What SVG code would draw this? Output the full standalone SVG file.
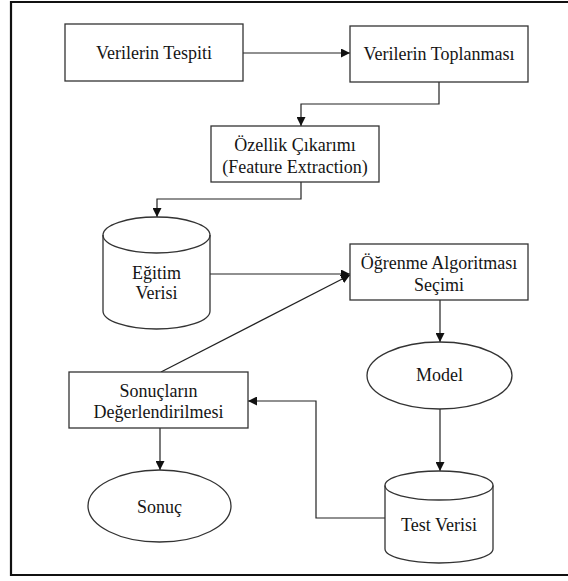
<svg xmlns="http://www.w3.org/2000/svg" width="568" height="581" viewBox="0 0 568 581">
  <defs>
    <marker id="arr" viewBox="0 0 10 10" refX="10" refY="5" markerWidth="9" markerHeight="9" markerUnits="userSpaceOnUse" orient="auto">
      <path d="M0,0 L10,5 L0,10 z" fill="#111"/>
    </marker>
    <style>
      .box { fill: #fff; stroke: #333; stroke-width: 1.3; }
      .lbl { font-family: 'Liberation Serif', 'DejaVu Serif', 'Noto Serif', 'Times New Roman', Times, serif; font-size: 18px; fill: #151515; text-anchor: middle; }
      .con { fill: none; stroke: #222; stroke-width: 1.2; }
      .frame { fill: none; stroke: #111; stroke-width: 2.2; }
    </style>
  </defs>
  <rect width="568" height="581" fill="#fff"/>
  <path class="frame" d="M570,2 L11,2 L11,575 L570,575"/>

  <g id="connectors">
    <path class="con" d="M243,53 L350,53" marker-end="url(#arr)"/>
    <path class="con" d="M439,82 L439,104 L301,104 L301,126" marker-end="url(#arr)"/>
    <path class="con" d="M301,182 L301,199 L157,199 L157,217" marker-end="url(#arr)"/>
    <path class="con" d="M210,274 L350,274" marker-end="url(#arr)"/>
    <path class="con" d="M161,372 L350,275" marker-end="url(#arr)"/>
    <path class="con" d="M440,300 L440,342" marker-end="url(#arr)"/>
    <path class="con" d="M160,428 L160,470" marker-end="url(#arr)"/>
    <path class="con" d="M440,409 L440,471" marker-end="url(#arr)"/>
    <path class="con" d="M385,518 L316,518 L316,401 L248,401" marker-end="url(#arr)"/>
  </g>

  <g id="verilerin-tespiti">
    <rect class="box" x="65" y="24" width="178" height="57"/>
    <text class="lbl" x="154" y="59">Verilerin Tespiti</text>
  </g>
  <g id="verilerin-toplanmasi">
    <rect class="box" x="350" y="26" width="178" height="56"/>
    <text class="lbl" x="439" y="60">Verilerin Toplanması</text>
  </g>
  <g id="ozellik-cikarimi">
    <rect class="box" x="211" y="126" width="168" height="56"/>
    <text class="lbl" x="295" y="151">Özellik Çıkarımı</text>
    <text class="lbl" x="295" y="173">(Feature Extraction)</text>
  </g>
  <g id="egitim-verisi">
    <path class="box" d="M103,235 L103,311 A53.5,18 0 0 0 210,311 L210,235 A53.5,18 0 0 0 103,235 Z"/>
    <path class="box" style="fill:none" d="M103,235 A53.5,18 0 0 0 210,235"/>
    <text class="lbl" x="156.5" y="279">Eğitim</text>
    <text class="lbl" x="156.5" y="299">Verisi</text>
  </g>
  <g id="ogrenme-algoritmasi">
    <rect class="box" x="350" y="244" width="178" height="56"/>
    <text class="lbl" x="439" y="269">Öğrenme Algoritması</text>
    <text class="lbl" x="439" y="291">Seçimi</text>
  </g>
  <g id="model">
    <ellipse class="box" cx="439.5" cy="375.5" rx="72.5" ry="33.5"/>
    <text class="lbl" x="439.5" y="381">Model</text>
  </g>
  <g id="sonuclarin-degerlendirilmesi">
    <rect class="box" x="69" y="372" width="179" height="56"/>
    <text class="lbl" x="158.5" y="397">Sonuçların</text>
    <text class="lbl" x="158.5" y="418">Değerlendirilmesi</text>
  </g>
  <g id="sonuc">
    <ellipse class="box" cx="159.5" cy="506" rx="71.5" ry="36"/>
    <text class="lbl" x="159.5" y="513">Sonuç</text>
  </g>
  <g id="test-verisi">
    <path class="box" d="M385,485.5 L385,549 A54,14 0 0 0 493,549 L493,485.5 A54,14.5 0 0 0 385,485.5 Z"/>
    <path class="box" style="fill:none" d="M385,485.5 A54,14.5 0 0 0 493,485.5"/>
    <text class="lbl" x="439" y="531">Test Verisi</text>
  </g>
</svg>
